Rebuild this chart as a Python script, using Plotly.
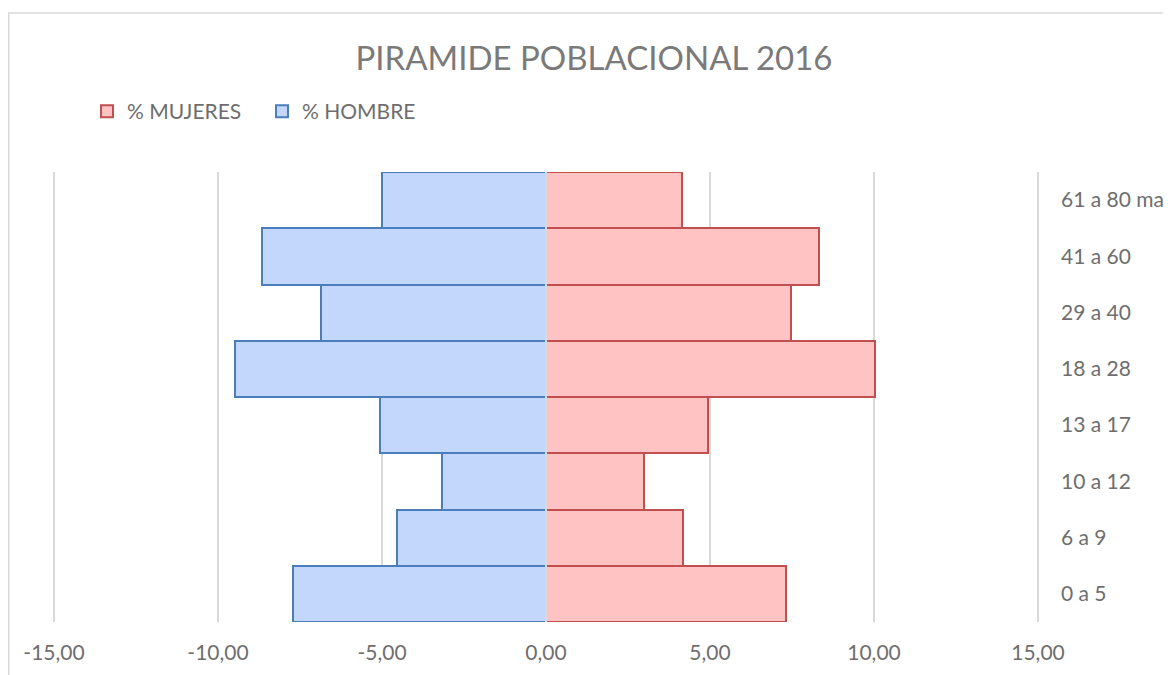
import plotly.graph_objects as go

categories = ["0 a 5", "6 a 9", "10 a 12", "13 a 17", "18 a 28", "29 a 40", "41 a 60", "61 a 80 mas"]
mujeres = [7.32, 4.18, 2.99, 4.94, 10.03, 7.47, 8.32, 4.15]
hombre = [-7.71, -4.54, -3.17, -5.06, -9.48, -6.86, -8.66, -5.00]
x_ticks = [-15, -10, -5, 0, 5, 10, 15]
x_tick_text = ["-15,00", "-10,00", "-5,00", "0,00", "5,00", "10,00", "15,00"]

OFF = 8  # page body margin
W, H = 1171 - OFF, 675 - OFF
# page-pixel positions of the plot area, converted to figure pixels
L, R, T, B = 52 - OFF, 1040 - OFF, 172 - OFF, 622 - OFF
pw, ph = R - L, B - T
pad = 2 * 30 / 984  # extend range so that edge grid lines are drawn

text_color = "#6e6e6e"
font_family = "Lato, 'Open Sans', sans-serif"

fig = go.Figure()
fig.add_trace(go.Bar(
    y=categories, x=mujeres, orientation="h", name="% MUJERES",
    marker=dict(color="#ffc3c3", line=dict(color="#c0504d", width=2)),
))
fig.add_trace(go.Bar(
    y=categories, x=hombre, orientation="h", name="% HOMBRE",
    marker=dict(color="#c3d7fd", line=dict(color="#4a7ebb", width=2)),
))

fig.update_layout(
    width=W, height=H,
    margin=dict(l=L, r=W - R, t=T, b=H - B, autoexpand=False),
    paper_bgcolor="white", plot_bgcolor="white",
    barmode="relative", bargap=0,
    font=dict(family=font_family, color=text_color, size=21),
    title=dict(text="PIRAMIDE POBLACIONAL 2016", x=(594 - OFF) / W, xanchor="center",
               y=1 - (58 - OFF) / H, yanchor="middle",
               font=dict(size=33, color="#7a7a7a", family=font_family)),
    legend=dict(orientation="h", x=(87 - OFF - L) / pw, xanchor="left",
                y=1 + (T - (91 - OFF)) / ph, yanchor="top",
                font=dict(size=21, color=text_color),
                entrywidth=130, entrywidthmode="pixels",
                itemclick=False),
    xaxis=dict(range=[-15 - pad, 15 + pad], tickvals=x_ticks, ticktext=x_tick_text,
               showgrid=True, gridcolor="#d9d9d9", gridwidth=1.5,
               zeroline=False, showline=False, ticks="",
               ticklabelstandoff=16, fixedrange=True),
    yaxis=dict(side="right", showgrid=False, zeroline=False, showline=False,
               ticks="", ticklabelstandoff=20, automargin=False,
               range=[-0.5, len(categories) - 0.5], fixedrange=True),
    shapes=[
        dict(type="line", xref="x", yref="paper", x0=0, x1=0, y0=0, y1=1,
             line=dict(color="#d9d9d9", width=2), layer="above"),
        dict(type="rect", xref="paper", yref="paper",
             x0=(8 - OFF - L) / pw + 0.0008, x1=1.3, y0=-0.3, y1=1 + (T - (13 - OFF)) / ph,
             line=dict(color="#d9d9d9", width=1.5), layer="below"),
    ],
)

fig.write_html("out.html")
